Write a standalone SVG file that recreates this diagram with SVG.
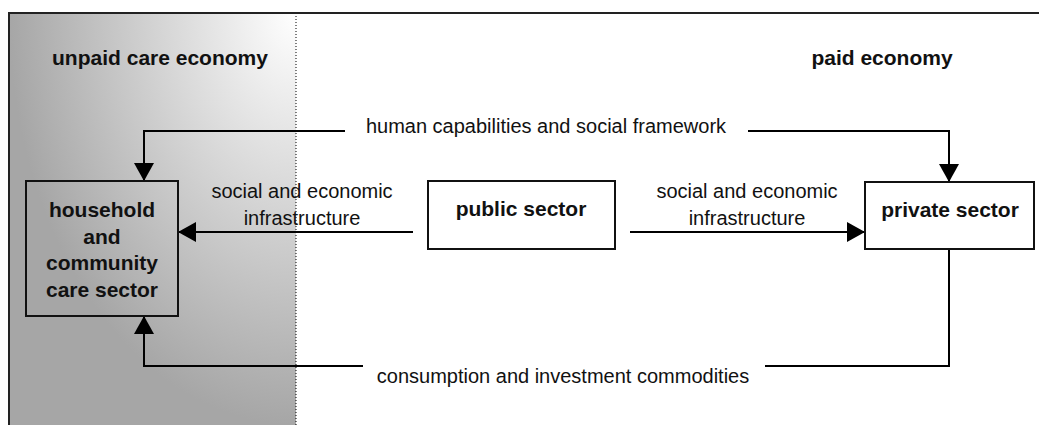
<svg xmlns="http://www.w3.org/2000/svg" width="1039" height="425" viewBox="0 0 1039 425">
  <style>
    .bold { font-family: "Liberation Sans", Arial, sans-serif; font-weight: bold; font-size: 21px; fill: #111; text-anchor: middle; }
    .reg { font-family: "Liberation Sans", Arial, sans-serif; font-size: 20px; fill: #111; text-anchor: middle; }
    .box { fill: #ffffff; stroke: #111; stroke-width: 2; }
    .conn { fill: none; stroke: #000; stroke-width: 2; }
  </style>
  <defs>
    <radialGradient id="careGrad" gradientUnits="objectBoundingBox" cx="1" cy="0" r="1" fx="1" fy="0">
      <stop offset="0" stop-color="#ffffff"/>
      <stop offset="1" stop-color="#a6a6a6"/>
    </radialGradient>
    <marker id="arrow" markerUnits="userSpaceOnUse" markerWidth="18" markerHeight="20" refX="18" refY="10" orient="auto" viewBox="0 0 18 20">
      <path d="M0,0 L18,10 L0,20 Z" fill="#000"/>
    </marker>
  </defs>

  <g id="background">
    <rect x="9" y="13" width="287" height="412" fill="url(#careGrad)"/>
    <line x1="296" y1="13" x2="296" y2="425" stroke="#000" stroke-width="1" stroke-dasharray="1,2"/>
    <path d="M9,425 V13 H1039" fill="none" stroke="#222" stroke-width="2"/>
    <text class="bold" x="160" y="65">unpaid care economy</text>
    <text class="bold" x="882" y="65">paid economy</text>
  </g>

  <g id="connectors">
    <path class="conn" d="M345,131 H144 V181" marker-end="url(#arrow)"/>
    <path class="conn" d="M748,131 H949 V182" marker-end="url(#arrow)"/>
    <text class="reg" x="546" y="133">human capabilities and social framework</text>

    <path class="conn" d="M413,232 H178" marker-end="url(#arrow)"/>
    <text class="reg" x="302" y="198">social and economic</text>
    <text class="reg" x="302" y="225">infrastructure</text>

    <path class="conn" d="M630,232 H865" marker-end="url(#arrow)"/>
    <text class="reg" x="747" y="198">social and economic</text>
    <text class="reg" x="747" y="225">infrastructure</text>

    <path class="conn" d="M949,249 V366 H765"/>
    <path class="conn" d="M363,366 H144 V316" marker-end="url(#arrow)"/>
    <text class="reg" x="563" y="383">consumption and investment commodities</text>
  </g>

  <g id="household">
    <rect x="26" y="181" width="152" height="135" fill="none" stroke="#111" stroke-width="2"/>
    <text class="bold" x="102" y="217">household</text>
    <text class="bold" x="102" y="244">and</text>
    <text class="bold" x="102" y="270">community</text>
    <text class="bold" x="102" y="297">care sector</text>
  </g>

  <g id="public">
    <rect class="box" x="428" y="181" width="187" height="68"/>
    <text class="bold" x="521" y="216">public sector</text>
  </g>

  <g id="private">
    <rect class="box" x="865" y="182" width="169" height="67"/>
    <text class="bold" x="950" y="217">private sector</text>
  </g>
</svg>
